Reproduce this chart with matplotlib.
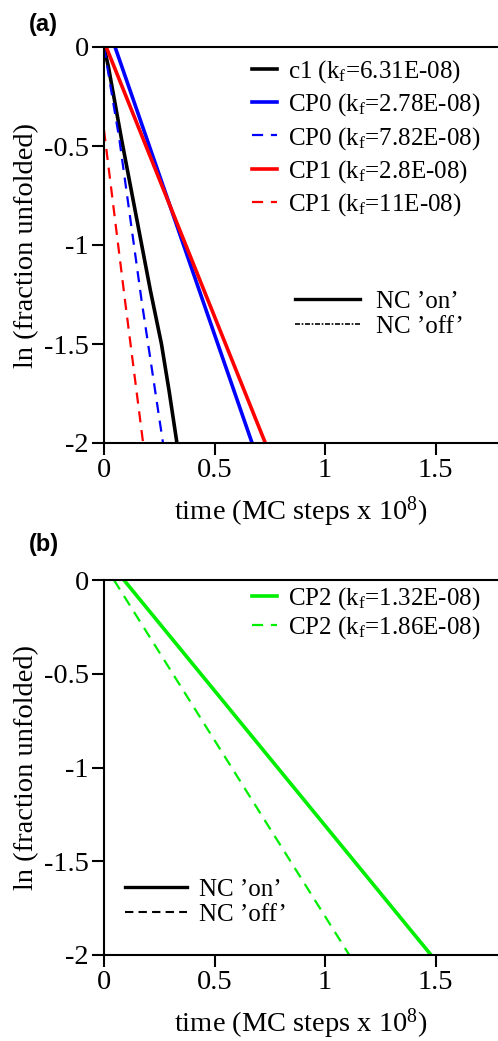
import matplotlib
matplotlib.use('Agg')
import matplotlib.pyplot as plt
from matplotlib.lines import Line2D

plt.rcParams['font.family'] = 'Liberation Serif'
plt.rcParams['mathtext.fontset'] = 'custom'
plt.rcParams['mathtext.rm'] = 'Liberation Serif'
plt.rcParams['mathtext.it'] = 'Liberation Serif:italic'

# panel (a) curves: time (x 1e8 MC steps) vs ln(fraction unfolded)
c1_t = [0, 0.02, 0.08, 0.21, 0.26, 0.295, 0.33]
c1_y = [0, -0.1, -0.47, -1.23, -1.5, -1.74, -2]
cp0_on_t = [0.05, 0.67]
cp0_on_y = [0, -2]
cp0_off_t = [0, 0.07, 0.17, 0.267]
cp0_off_y = [0, -0.47, -1.28, -2]
cp1_on_t = [0.01, 0.73]
cp1_on_y = [0, -2]
cp1_off_t = [0, 0.095, 0.177]
cp1_off_y = [-0.42, -1.28, -2]

# panel (b)
cp2_on_t = [0.09, 1.48]
cp2_on_y = [0, -2]
cp2_off_t = [0.045, 1.11]
cp2_off_y = [0, -2]

labels_a = ['c1 (k$_{\\rm f}$=6.31E-08)', 'CP0 (k$_{\\rm f}$=2.78E-08)',
            'CP0 (k$_{\\rm f}$=7.82E-08)', 'CP1 (k$_{\\rm f}$=2.8E-08)',
            'CP1 (k$_{\\rm f}$=11E-08)']
labels_b = ['CP2 (k$_{\\rm f}$=1.32E-08)', 'CP2 (k$_{\\rm f}$=1.86E-08)']
nc_labels = ['NC \u2019on\u2019', 'NC \u2019off\u2019']

xticks = [0, 0.5, 1, 1.5]
xticklabels = ['0', '0.5', '1', '1.5']
yticks = [0, -0.5, -1, -1.5, -2]
yticklabels = ['0', '-0.5', '-1', '-1.5', '-2']

W, H = 498, 1041
fig = plt.figure(figsize=(W/100, H/100), dpi=100)

x0 = 104 / W
xmax = (W - 104) / 221.0
ax_a = fig.add_axes([x0, 1 - 443/H, 1 - x0, (443 - 47)/H])
ax_b = fig.add_axes([x0, 1 - 955/H, 1 - x0, (955 - 580)/H])

FS = 20.5
LFS = 18

def style(ax):
    ax.set_xlim(0, xmax)
    ax.set_ylim(-2, 0)
    ax.spines['right'].set_visible(False)
    for s in ['left', 'top', 'bottom']:
        ax.spines[s].set_linewidth(1.5)
    ax.set_xticks(xticks)
    ax.set_xticklabels(xticklabels)
    ax.set_yticks(yticks)
    ax.set_yticklabels(yticklabels)
    ax.tick_params(direction='out', length=8.5, width=1.5, labelsize=FS, pad=2.5)
    ax.set_xlabel('time (MC steps x 10$^{8}$)', fontsize=FS, labelpad=8)
    ax.set_ylabel('ln (fraction unfolded)', fontsize=FS, labelpad=3)

style(ax_a)
style(ax_b)

lw = 2.6
dash = (5, 3.5)
h1, = ax_a.plot(c1_t, c1_y, color='black', lw=lw)
h2, = ax_a.plot(cp0_on_t, cp0_on_y, color='#0000ff', lw=lw)
h3, = ax_a.plot(cp0_off_t, cp0_off_y, color='#0000ff', lw=1.6, dashes=dash)
h4, = ax_a.plot(cp1_on_t, cp1_on_y, color='#ff0000', lw=lw)
h5, = ax_a.plot(cp1_off_t, cp1_off_y, color='#ff0000', lw=1.6, dashes=dash)

kw = dict(frameon=False, fontsize=LFS, borderaxespad=0, borderpad=0,
          loc='upper left')
leg1 = ax_a.legend([h1, h2, h3, h4, h5], labels_a,
                   bbox_to_anchor=(0.376, 0.972), handlelength=1.0,
                   handletextpad=0.45, labelspacing=0.26, **kw)
ax_a.add_artist(leg1)
nc_a = [Line2D([], [], color='black', lw=2.4),
        Line2D([], [], color='black', lw=1.2, dashes=(3, 1, 1, 1))]
ax_a.legend(nc_a, nc_labels, bbox_to_anchor=(0.485, 0.385),
            handlelength=2.6, handletextpad=0.65, labelspacing=0.1, **kw)

g1, = ax_b.plot(cp2_on_t, cp2_on_y, color='#00ee00', lw=lw)
g2, = ax_b.plot(cp2_off_t, cp2_off_y, color='#00ee00', lw=1.6, dashes=dash)
leg2 = ax_b.legend([g1, g2], labels_b, bbox_to_anchor=(0.376, 0.985),
                   handlelength=1.0, handletextpad=0.45, labelspacing=0.08,
                   **kw)
ax_b.add_artist(leg2)
nc_b = [Line2D([], [], color='black', lw=2.4),
        Line2D([], [], color='black', lw=1.5, dashes=(4, 2.5))]
ax_b.legend(nc_b, nc_labels, bbox_to_anchor=(0.053, 0.205),
            handlelength=2.5, handletextpad=0.45, labelspacing=0.1, **kw)

fig.text(29/W, 1 - 25/H, '(a)', fontsize=17, fontweight='bold',
         family='Liberation Sans', va='center', ha='left')
fig.text(29/W, 1 - 545/H, '(b)', fontsize=17, fontweight='bold',
         family='Liberation Sans', va='center', ha='left')

fig.savefig('out.png', dpi=100)
